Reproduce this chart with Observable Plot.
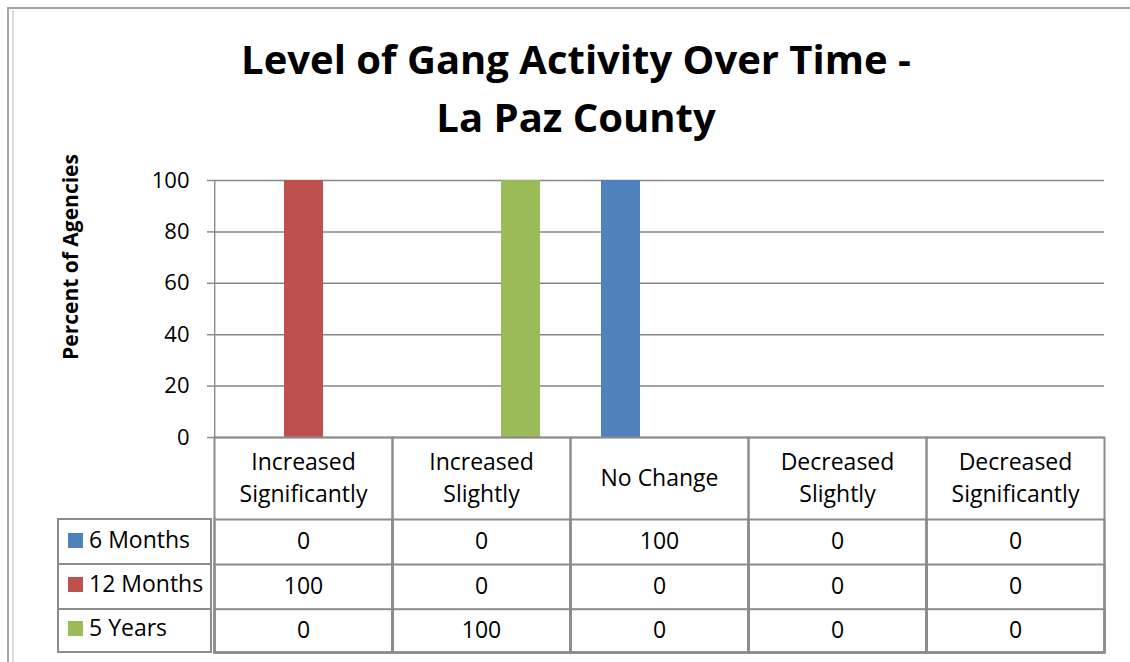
<!DOCTYPE html>
<html>
<head>
<meta charset="utf-8">
<script src="https://cdn.jsdelivr.net/npm/d3@7"></script>
<script src="https://cdn.jsdelivr.net/npm/@observablehq/plot@0.6"></script>
<style>
  body { margin: 0; background: #fff; font-family: "Open Sans", sans-serif; }
  #wrap { position: relative; width: 1130px; height: 662px; overflow: hidden; background: #fff; }
  #wrap > * { position: absolute; }
  .legrow { position: absolute; left: 57px; width: 155px; box-sizing: border-box;
            border: 2px solid #8c8c8c; display: flex; align-items: center;
            font-size: 23px; color: #000; }
  .legrow span { position: relative; top: -3px; }
  .sw { width: 15px; height: 15px; margin-left: 9px; margin-right: 6px; margin-top: -3px; }
</style>
</head>
<body>
<div id="wrap"></div>
<script>
// ---- data ----
const categories = ["Increased Significantly", "Increased Slightly", "No Change", "Decreased Slightly", "Decreased Significantly"];
const categoryLabels = ["Increased\nSignificantly", "Increased\nSlightly", "No Change", "Decreased\nSlightly", "Decreased\nSignificantly"];
const series = ["6 Months", "12 Months", "5 Years"];
const seriesColors = ["#4F81BD", "#C0504D", "#9BBB59"];
const months6 = [0, 0, 100, 0, 0];
const months12 = [100, 0, 0, 0, 0];
const years5 = [0, 100, 0, 0, 0];
const yTicks = [0, 20, 40, 60, 80, 100];
const titleLines = ["Level of Gang Activity Over Time -", "La Paz County"];
const yLabel = "Percent of Agencies";

const seriesValues = [months6, months12, years5];
const rows = [];
series.forEach((s, j) => categories.forEach((c, i) => rows.push({series: s, category: c, value: seriesValues[j][i]})));

// ---- layout ----
const W = 1130, H = 662, mL = 212, mR = 25, mT = 180, mB = 225;
const bw = (W - mL - mR) / categories.length;
const gridColor = "#868686", lineColor = "#8c8c8c";
const rowTops = [519, 564, 608.7], tableBottom = 652, axisBottom = H - mB;

const tableFrames = [axisBottom, ...rowTops].map(t =>
  Plot.frame({stroke: lineColor, strokeWidth: 2, insetTop: t - mT, insetBottom: axisBottom - tableBottom}));

const chart = Plot.plot({
  width: W, height: H,
  marginLeft: mL, marginRight: mR, marginTop: mT, marginBottom: mB,
  style: {fontFamily: "'Open Sans', sans-serif", fontSize: "22px", color: "#000", background: "transparent", overflow: "visible"},
  fx: {domain: categories, padding: 0, axis: null},
  x: {domain: series, paddingInner: 0, paddingOuter: 0.73, axis: null},
  y: {domain: [0, 100], axis: null},
  color: {domain: series, range: seriesColors},
  marks: [
    Plot.ruleY(yTicks, {stroke: gridColor, strokeWidth: 1.5}),
    Plot.barY(rows, {fx: "category", x: "series", y: "value", fill: "series"}),
    Plot.rect([categories[0]], {fx: d => d, fill: lineColor, insetRight: bw - 2}),
    Plot.axisY({ticks: yTicks, label: null, tickSize: 7, tickPadding: 18, stroke: lineColor, strokeWidth: 1.5, fill: "#000", fontSize: 22, tickFormat: d => String(d)}),
    ...tableFrames,
    Plot.text(categories, {fx: d => d, text: (d, i) => categoryLabels[i], frameAnchor: "bottom", lineAnchor: "middle", dy: 38, lineHeight: 1.39, fontSize: 23, fill: "#000"}),
    ...series.map((s, j) => Plot.text(rows.filter(r => r.series === s), {
      fx: "category", text: d => String(d.value), frameAnchor: "bottom", lineAnchor: "middle",
      dy: (rowTops[j] + (j < 2 ? rowTops[j + 1] : tableBottom)) / 2 - axisBottom,
      fontSize: 23, fill: "#000"
    }))
  ]
});

const wrap = document.getElementById("wrap");
chart.style.left = "0px"; chart.style.top = "0px";
wrap.appendChild(chart);

// legend column of the data table
series.forEach((s, j) => {
  const top = rowTops[j];
  const bottom = j < 2 ? rowTops[j + 1] : tableBottom;
  const r = document.createElement("div");
  r.className = "legrow";
  r.style.top = (top - 1) + "px";
  r.style.height = (bottom - top + 2) + "px";
  const sw = document.createElement("div");
  sw.className = "sw"; sw.style.background = seriesColors[j];
  const t = document.createElement("span"); t.textContent = s;
  r.appendChild(sw); r.appendChild(t);
  wrap.appendChild(r);
});

// title, axis label, border
const ns = "http://www.w3.org/2000/svg";
const ov = document.createElementNS(ns, "svg");
ov.setAttribute("width", W); ov.setAttribute("height", H);
ov.style.left = "0px"; ov.style.top = "0px"; ov.style.pointerEvents = "none";
function add(tag, attrs, text) {
  const e = document.createElementNS(ns, tag);
  for (const k in attrs) e.setAttribute(k, attrs[k]);
  if (text != null) e.textContent = text;
  ov.appendChild(e); return e;
}
add("rect", {x: 8, y: 8, width: 1140, height: 670, fill: "none", stroke: "#a6a6a6", "stroke-width": 2});
add("line", {x1: 13, y1: 10, x2: 13, y2: 662, stroke: "#d0d0d0", "stroke-width": 1.5});
[74, 132].forEach((y, i) => add("text", {x: 576, y, "text-anchor": "middle", "font-family": "'Open Sans', sans-serif", "font-weight": 700, "font-size": 40, fill: "#000"}, titleLines[i]));
add("text", {transform: "translate(78,257) rotate(-90)", "text-anchor": "middle", "font-family": "'Open Sans', sans-serif", "font-weight": 700, "font-size": 21, fill: "#000"}, yLabel);
wrap.appendChild(ov);
</script>
</body>
</html>
